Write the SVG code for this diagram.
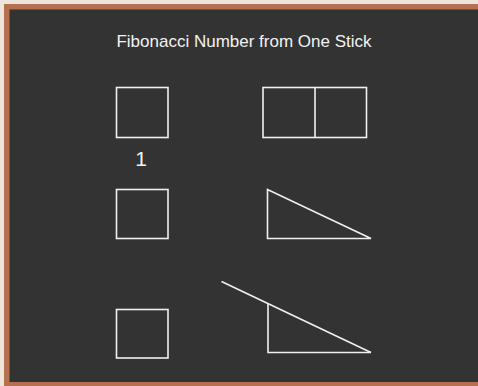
<svg xmlns="http://www.w3.org/2000/svg" width="478" height="386" viewBox="0 0 478 386">
  <style>
    .sh { fill: none; stroke: #f0f0f0; stroke-width: 1.6; }
    .txt { fill: #f2f2f2; font-family: "Liberation Sans", Arial, sans-serif; }
  </style>
  <rect id="page" x="0" y="0" width="478" height="386" fill="#ede5da"/>
  <rect id="frame" x="4" y="4" width="480" height="390" fill="#b5714f"/>
  <rect id="board" x="9.5" y="9.5" width="470" height="372.5" fill="#333333"/>
  <text id="title" class="txt" x="244" y="47" font-size="17" text-anchor="middle">Fibonacci Number from One Stick</text>
  <g id="square1"><rect class="sh" x="116.5" y="87.5" width="51.5" height="50"/></g>
  <text id="label1" class="txt" x="141" y="166" font-size="21" text-anchor="middle">1</text>
  <g id="twoSquares">
    <rect class="sh" x="263" y="87.5" width="103.5" height="50"/>
    <line class="sh" x1="315" y1="87.5" x2="315" y2="137.5"/>
  </g>
  <g id="square2"><rect class="sh" x="116.5" y="189.5" width="51.5" height="49"/></g>
  <g id="triangle1"><polygon class="sh" points="267.5,189.5 267.5,238.5 371,238.5"/></g>
  <g id="square3"><rect class="sh" x="116.5" y="309.5" width="51.5" height="48.5"/></g>
  <g id="triangle2">
    <polyline class="sh" points="268,304 268,352.5 371,352.5"/>
    <line class="sh" x1="221.5" y1="281.5" x2="371" y2="352.5"/>
  </g>
</svg>
